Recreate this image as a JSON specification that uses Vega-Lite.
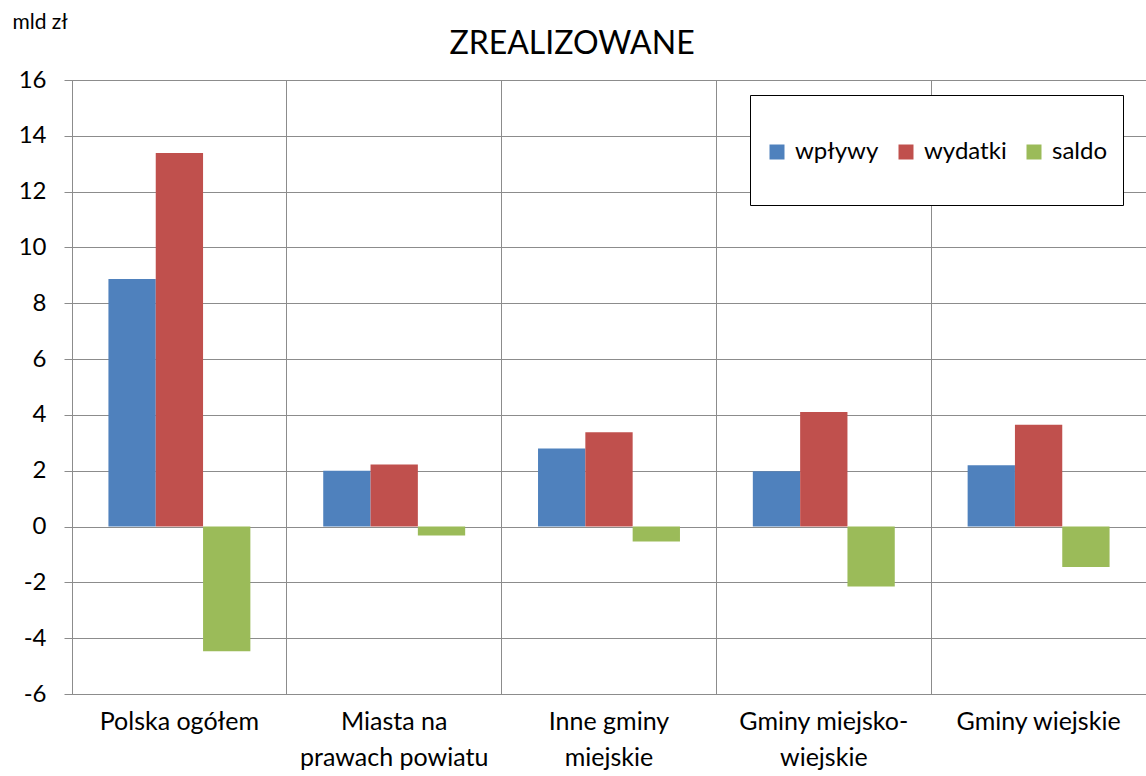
{
  "$schema": "https://vega.github.io/schema/vega-lite/v6.json",
  "width": 1074,
  "height": 614,
  "autosize": {"type": "none"},
  "padding": {"left": 72, "top": 80, "right": 0, "bottom": 82},
  "background": "white",
  "title": {"text": "ZREALIZOWANE", "fontSize": 32, "font": "Lato", "fontWeight": "normal", "color": "#000000", "anchor": "middle", "dx": -37, "offset": -50},
  "data": {"values": [
    {"kategoria": "Polska ogółem", "typ": "wpływy", "wartosc": 8.87},
    {"kategoria": "Polska ogółem", "typ": "wydatki", "wartosc": 13.38},
    {"kategoria": "Polska ogółem", "typ": "saldo", "wartosc": -4.47},
    {"kategoria": "Miasta na prawach powiatu", "typ": "wpływy", "wartosc": 2.0},
    {"kategoria": "Miasta na prawach powiatu", "typ": "wydatki", "wartosc": 2.22},
    {"kategoria": "Miasta na prawach powiatu", "typ": "saldo", "wartosc": -0.32},
    {"kategoria": "Inne gminy miejskie", "typ": "wpływy", "wartosc": 2.8},
    {"kategoria": "Inne gminy miejskie", "typ": "wydatki", "wartosc": 3.38},
    {"kategoria": "Inne gminy miejskie", "typ": "saldo", "wartosc": -0.54},
    {"kategoria": "Gminy miejsko-wiejskie", "typ": "wpływy", "wartosc": 1.98},
    {"kategoria": "Gminy miejsko-wiejskie", "typ": "wydatki", "wartosc": 4.1},
    {"kategoria": "Gminy miejsko-wiejskie", "typ": "saldo", "wartosc": -2.15},
    {"kategoria": "Gminy wiejskie", "typ": "wpływy", "wartosc": 2.2},
    {"kategoria": "Gminy wiejskie", "typ": "wydatki", "wartosc": 3.65},
    {"kategoria": "Gminy wiejskie", "typ": "saldo", "wartosc": -1.45}
  ]},
  "mark": {"type": "bar"},
  "encoding": {
    "x": {
      "field": "kategoria", "type": "nominal", "sort": null,
      "scale": {"paddingInner": 0, "paddingOuter": 0},
      "axis": {
        "title": null, "labelAngle": 0, "domain": false, "ticks": false,
        "grid": true, "bandPosition": 0, "gridColor": "#8c8c8c", "gridWidth": 1,
        "labelFont": "Lato", "labelFontSize": 25, "labelColor": "#000000", "labelLimit": 0,
        "labelPadding": 15, "labelLineHeight": 36, "labelBaseline": "top",
        "labelExpr": "datum.label == 'Miasta na prawach powiatu' ? ['Miasta na', 'prawach powiatu'] : datum.label == 'Inne gminy miejskie' ? ['Inne gminy', 'miejskie'] : datum.label == 'Gminy miejsko-wiejskie' ? ['Gminy miejsko-', 'wiejskie'] : datum.label"
      }
    },
    "xOffset": {
      "field": "typ", "type": "nominal", "sort": ["wpływy", "wydatki", "saldo"],
      "scale": {"paddingInner": 0, "paddingOuter": 0.77}
    },
    "y": {
      "field": "wartosc", "type": "quantitative",
      "scale": {"domain": [-6, 16], "nice": false, "zero": false},
      "axis": {
        "values": [-6, -4, -2, 0, 2, 4, 6, 8, 10, 12, 14, 16],
        "labelExpr": "replace(datum.label, '−', '-')",
        "title": "mld zł", "titleAngle": 0, "titleAlign": "left", "titleBaseline": "middle",
        "titleX": -60, "titleY": -58, "titleFont": "Lato", "titleFontSize": 21, "titleFontWeight": "normal", "titleColor": "#000000",
        "domain": true, "domainColor": "#8c8c8c", "ticks": true, "tickSize": 8, "tickColor": "#8c8c8c",
        "grid": true, "gridColor": "#8c8c8c", "gridWidth": 1,
        "labelFont": "Lato", "labelFontSize": 24, "labelColor": "#000000", "labelPadding": 18
      }
    },
    "color": {
      "field": "typ", "type": "nominal",
      "scale": {"domain": ["wpływy", "wydatki", "saldo"], "range": ["#4F81BD", "#C0504D", "#9BBB59"]},
      "legend": {
        "title": " ", "titleFontSize": 22, "titlePadding": 8,
        "orient": "none", "direction": "horizontal",
        "legendX": 678, "legendY": 15,
        "strokeColor": "#000000", "fillColor": "white",
        "padding": 15, "symbolType": "square", "symbolSize": 225, "symbolStrokeWidth": 0,
        "labelFont": "Lato", "labelFontSize": 24, "labelColor": "#000000", "labelOffset": 6,
        "columnPadding": 15, "labelLineHeight": 32,
        "labelExpr": "[datum.label, '']"
      }
    }
  },
  "config": {
    "view": {"stroke": "#8c8c8c", "strokeWidth": 1}
  }
}
